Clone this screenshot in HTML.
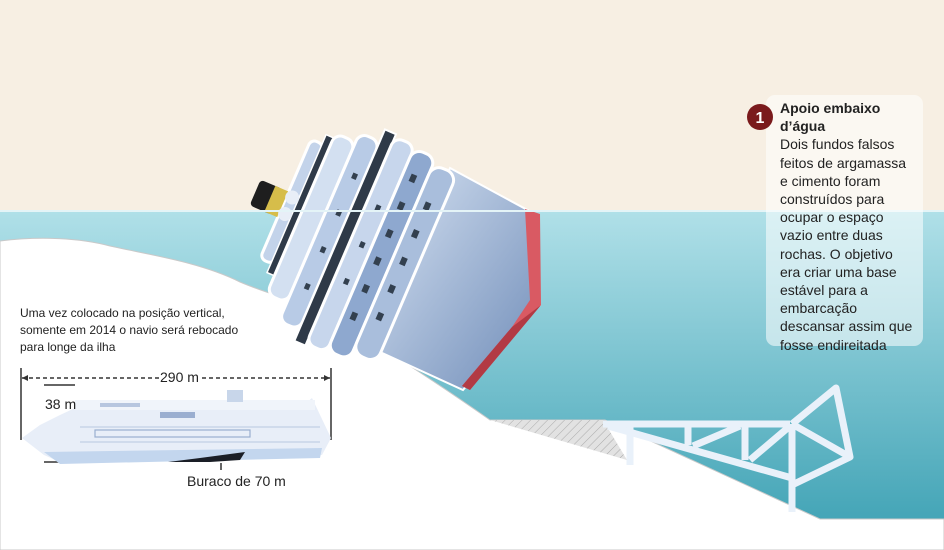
<!DOCTYPE html>
<html><head><meta charset="utf-8"><style>
html,body{margin:0;padding:0;width:944px;height:550px;overflow:hidden;background:#fff;font-family:"Liberation Sans",sans-serif}
svg{position:absolute;left:0;top:0}
.t{position:absolute;color:#222}
</style></head><body>
<svg width="944" height="550" viewBox="0 0 944 550">
<defs>
<linearGradient id="w" x1="0" y1="0" x2="0" y2="1"><stop offset="0" stop-color="#b0e0e8"/><stop offset="1" stop-color="#44a5b7"/></linearGradient>
<linearGradient id="h" x1="0" y1="0" x2="1" y2="1"><stop offset="0" stop-color="#d6e2f2"/><stop offset="1" stop-color="#6f8cb8"/></linearGradient>
<pattern id="hat" width="6" height="6" patternUnits="userSpaceOnUse" patternTransform="rotate(45)"><rect width="6" height="6" fill="#e2e2e2"/><line x1="0" y1="0" x2="0" y2="6" stroke="#aaa" stroke-width="1"/></pattern>
</defs>
<rect width="944" height="212" fill="#f7efe3"/>
<rect y="211" width="944" height="309" fill="url(#w)"/>
<path d="M0,241 C40,236 80,238 110,246 C150,255 200,262 240,282 C275,297 300,300 330,318 C380,345 440,385 490,420 L605,420 L820,519 L944,519 L944,550 L0,550 Z" fill="#fff" stroke="#c9c9c9" stroke-width="1"/>
<polygon points="490,420 603,420 627,460" fill="url(#hat)"/>
<polygon points="450,168 533,213 540,305 512,330 463,390 380,352" fill="url(#h)" stroke="#fff" stroke-width="2"/>
<polygon points="525,209 540,214 541,305 520,330 470,390 462,386 512,327 530,300" fill="#d95a63"/>
<polygon points="512,327 541,305 470,390 462,386" fill="#b23a44"/>
<g transform="translate(355,245) rotate(-66.8)">
<rect x="-50" y="-82" width="130" height="14" rx="6" fill="#c3d3ea" stroke="#fff" stroke-width="3"/>
<rect x="-60" y="-70" width="150" height="8" fill="#2f3a48" stroke="#fff" stroke-width="1.5"/>
<rect x="-80" y="-62" width="175" height="22" rx="9" fill="#d3e0f1" stroke="#fff" stroke-width="3"/>
<rect x="-100" y="-40" width="205" height="22" rx="9" fill="#b8cbe6" stroke="#fff" stroke-width="3"/>
<rect x="-112" y="-18" width="230" height="12" fill="#2f3a48" stroke="#fff" stroke-width="2"/>
<rect x="-110" y="-6" width="225" height="22" rx="9" fill="#c7d6ec" stroke="#fff" stroke-width="3"/>
<rect x="-108" y="16" width="220" height="24" rx="10" fill="#8ea8cf" stroke="#fff" stroke-width="3"/>
<rect x="-100" y="40" width="205" height="26" rx="11" fill="#a9bedc" stroke="#fff" stroke-width="3"/>
<g fill="#33404f">
<rect x="-70" y="24" width="8" height="6"/><rect x="-40" y="24" width="8" height="6"/><rect x="-10" y="24" width="8" height="6"/><rect x="20" y="24" width="8" height="6"/><rect x="50" y="24" width="8" height="6"/><rect x="80" y="24" width="8" height="6"/>
<rect x="-60" y="48" width="8" height="6"/><rect x="-30" y="48" width="8" height="6"/><rect x="0" y="48" width="8" height="6"/><rect x="30" y="48" width="8" height="6"/><rect x="60" y="48" width="8" height="6"/>
<rect x="-60" y="-30" width="6" height="5"/><rect x="-20" y="-30" width="6" height="5"/><rect x="20" y="-30" width="6" height="5"/><rect x="60" y="-30" width="6" height="5"/>
<rect x="-40" y="4" width="6" height="5"/><rect x="0" y="4" width="6" height="5"/><rect x="40" y="4" width="6" height="5"/>
</g>
</g>
<g transform="translate(268,198) rotate(-66.8)">
<rect x="-14" y="-14" width="28" height="24" rx="4" fill="#1e1e1e"/>
<rect x="-14" y="2" width="28" height="14" fill="#d6bd4a"/>
<circle cx="10" cy="22" r="7" fill="#e8eef7"/><circle cx="-8" cy="22" r="7" fill="#e8eef7"/>
</g>
<line x1="0" y1="211" x2="944" y2="211" stroke="#e4f4f7" stroke-width="2"/>
<g stroke="#e9f1fa" stroke-width="7" fill="none" stroke-linejoin="round">
<polyline points="603,424 790,424"/>
<line x1="608" y1="426" x2="792" y2="478"/>
<line x1="630" y1="424" x2="630" y2="465"/>
<line x1="688" y1="424" x2="688" y2="445"/>
<line x1="745" y1="424" x2="745" y2="460"/>
<line x1="792" y1="424" x2="792" y2="512"/>
<line x1="693" y1="446" x2="740" y2="426"/>
<line x1="750" y1="460" x2="790" y2="426"/>
<polyline points="792,424 836,388 850,457 792,485"/>
<line x1="792" y1="424" x2="850" y2="457"/>
</g>
<rect x="766" y="95" width="157" height="251" rx="9" fill="#fff" fill-opacity="0.55"/>
<circle cx="760" cy="117" r="13" fill="#7a1a1c"/>
<text x="760" y="123" text-anchor="middle" fill="#fff" font-size="16" font-weight="bold" font-family="Liberation Sans">1</text>
<line x1="22" y1="378" x2="160" y2="378" stroke="#333" stroke-width="1.5" stroke-dasharray="4,3"/>
<line x1="202" y1="378" x2="330" y2="378" stroke="#333" stroke-width="1.5" stroke-dasharray="4,3"/>
<line x1="21" y1="368" x2="21" y2="440" stroke="#333" stroke-width="1.5"/>
<line x1="331" y1="368" x2="331" y2="440" stroke="#333" stroke-width="1.5"/>
<polygon points="22,378 28,375 28,381" fill="#333"/><polygon points="330,378 324,375 324,381" fill="#333"/>
<line x1="44" y1="385" x2="75" y2="385" stroke="#333" stroke-width="1.5"/>
<line x1="44" y1="462" x2="75" y2="462" stroke="#333" stroke-width="1.5"/>
<line x1="60" y1="416" x2="60" y2="460" stroke="#333" stroke-width="1.5" stroke-dasharray="4,3"/>
<path d="M22,438 L40,425 L60,415 L75,408 L300,408 L312,398 L331,438 L322,455 L230,460 L60,462 L44,455 Z" fill="#e8eef8"/>
<path d="M44,452 L322,448 L320,458 L60,464 Z" fill="#c3d6ee"/>
<rect x="75" y="400" width="240" height="10" fill="#f0f4fa"/>
<rect x="100" y="403" width="40" height="4" fill="#b7c6df"/>
<rect x="160" y="412" width="35" height="6" fill="#9aaed0"/>
<rect x="227" y="390" width="16" height="12" fill="#c8d6ea"/>
<g fill="none" stroke="#9aaed0" stroke-width="1.2"><rect x="95" y="430" width="155" height="7"/></g>
<rect x="80" y="426" width="240" height="2" fill="#d0dbec"/>
<rect x="80" y="441" width="240" height="2" fill="#d0dbec"/>
<path d="M168,462 L200,458 L245,452 L240,460 L210,462 Z" fill="#1a1e26"/>
<line x1="221" y1="463" x2="221" y2="470" stroke="#333" stroke-width="1.5"/>
</svg>
<div class="t" style="left:20px;top:305px;font-size:12px;line-height:17px">Uma vez colocado na posição vertical,<br>somente em 2014 o navio será rebocado<br>para longe da ilha</div>
<div class="t" style="left:160px;top:369px;font-size:14px">290 m</div>
<div class="t" style="left:45px;top:396px;font-size:14px">38 m</div>
<div class="t" style="left:187px;top:473px;font-size:14px">Buraco de 70 m</div>
<div class="t" style="left:780px;top:99px;font-size:14px;line-height:18.2px;width:140px">
<b>Apoio embaixo<br>d’água</b><br>Dois fundos falsos<br>feitos de argamassa<br>e cimento foram<br>construídos para<br>ocupar o espaço<br>vazio entre duas<br>rochas. O objetivo<br>era criar uma base<br>estável para a<br>embarcação<br>descansar assim que<br>fosse endireitada</div>
</body></html>
